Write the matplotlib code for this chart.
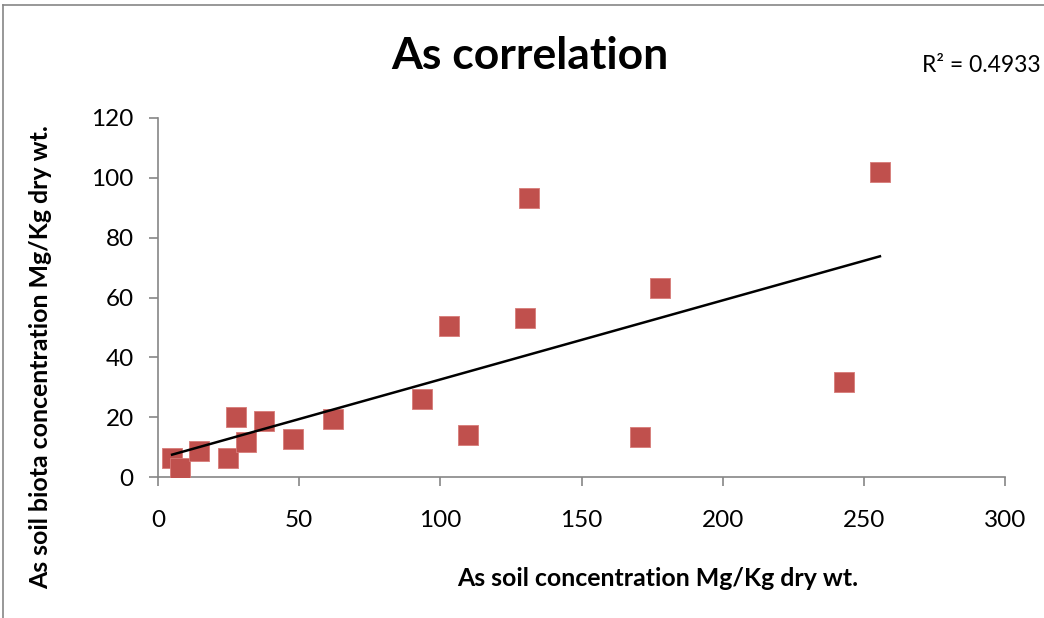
import matplotlib.pyplot as plt
import numpy as np
from matplotlib.lines import Line2D

# valores
soil_as = [5.0, 7.7, 14.5, 24.7, 27.6, 31.1, 37.6, 47.7, 62.0, 93.4,
           102.9, 109.9, 129.9, 131.4, 170.8, 177.8, 242.9, 255.7]
biota_as = [6.2, 3.0, 8.7, 6.2, 19.9, 11.7, 18.6, 12.6, 19.4, 26.0,
            50.5, 13.9, 53.1, 93.3, 13.3, 63.2, 31.6, 101.8]
x_ticks = [0, 50, 100, 150, 200, 250, 300]
y_ticks = [0, 20, 40, 60, 80, 100, 120]
r2_label = "R² = 0.4933"

fig = plt.figure(figsize=(10.44, 6.18), dpi=100)
ax = fig.add_axes([158 / 1044, 1 - 477 / 618, 847 / 1044, 359 / 618])

ax.scatter(soil_as, biota_as, marker="s", s=200, color="#C0504D",
           edgecolors="#D77B78", linewidths=0.6, zorder=3)

# linea de tendencia lineal
x = np.array(soil_as)
m, b = np.polyfit(x, np.array(biota_as), 1)
x_fit = np.array([x.min(), x.max()])
ax.plot(x_fit, m * x_fit + b, color="black", linewidth=1.8, zorder=4)

ax.set_xlim(0, 300)
ax.set_ylim(0, 120)
ax.set_xticks(x_ticks)
ax.set_yticks(y_ticks)
for s in ["top", "right"]:
    ax.spines[s].set_visible(False)
for s in ["left", "bottom"]:
    ax.spines[s].set_color("#868686")
    ax.spines[s].set_linewidth(1.2)
ax.tick_params(axis="both", direction="out", length=6.5, width=1.2, color="#868686",
               labelsize=17.5, labelcolor="black")
ax.tick_params(axis="x", pad=17)
ax.tick_params(axis="y", pad=11)
for lab in ax.get_xticklabels() + ax.get_yticklabels():
    lab.set_family("Lato")

fig.text(530 / 1044, 1 - 56 / 618, "As correlation", ha="center", va="center",
         fontsize=32, fontweight="bold", family="Lato")
fig.text(922 / 1044, 1 - 65 / 618, r2_label, ha="left", va="center",
         fontsize=16.5, family="Lato")
fig.text(658 / 1044, 1 - 578 / 618, "As soil concentration Mg/Kg dry wt.", ha="center",
         va="center", fontsize=17.9, fontweight="bold", family="Lato")
fig.text(41 / 1044, 1 - 357 / 618, "As soil biota concentration Mg/Kg dry wt.", ha="center",
         va="center", rotation=90, fontsize=17.9, fontweight="bold", family="Lato")

# borde del area del grafico
fig.add_artist(Line2D([3 / 1044, 3 / 1044], [0, 1 - 5 / 618], color="#868686", linewidth=1.2))
fig.add_artist(Line2D([3 / 1044, 1], [1 - 5 / 618, 1 - 5 / 618], color="#868686", linewidth=1.2))

fig.savefig("out.png", dpi=100, facecolor="white")
